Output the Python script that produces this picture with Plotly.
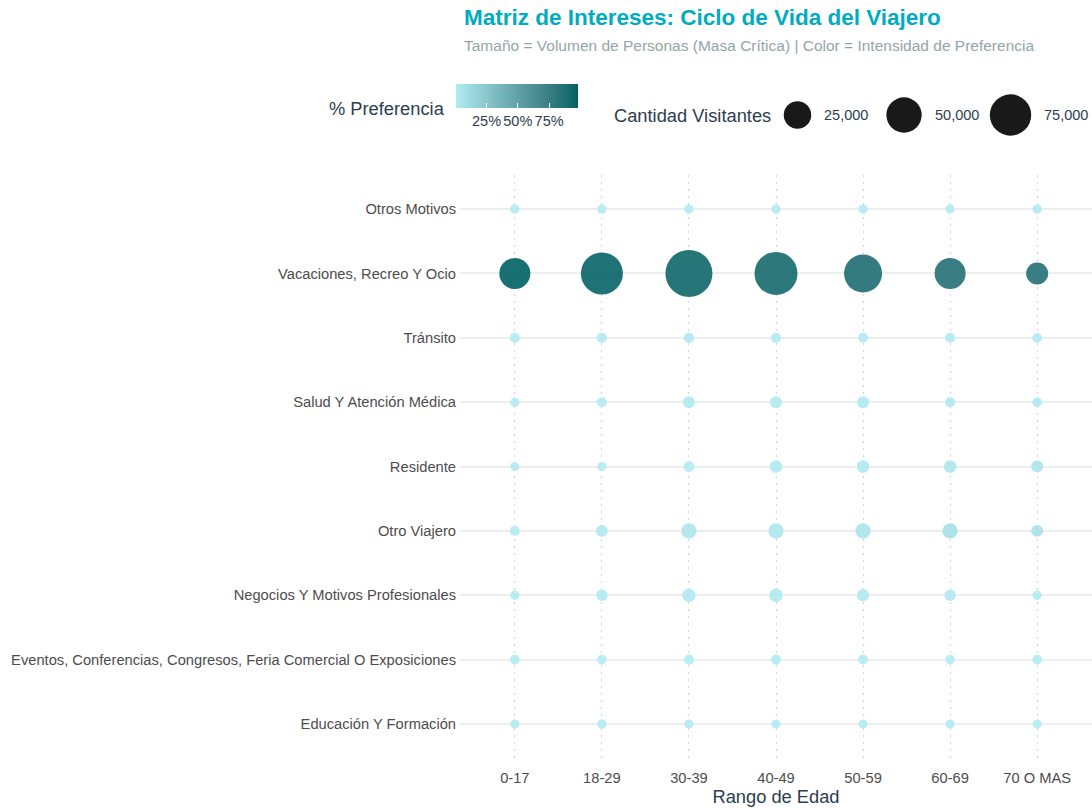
import numpy as np
import plotly.graph_objects as go

ages = ["0-17", "18-29", "30-39", "40-49", "50-59", "60-69", "70 O MAS"]

# bottom -> top order on the y axis
motives = [
    "Educación Y Formación",
    "Eventos, Conferencias, Congresos, Feria Comercial O Exposiciones",
    "Negocios Y Motivos Profesionales",
    "Otro Viajero",
    "Residente",
    "Salud Y Atención Médica",
    "Tránsito",
    "Vacaciones, Recreo Y Ocio",
    "Otros Motivos",
]

# visitors per motive (rows) and age range (columns)
visitors_educacion = [30, 50, 40, 30, 25, 25, 25]
visitors_eventos = [100, 120, 200, 200, 150, 120, 80]
visitors_negocios = [40, 560, 1600, 1600, 1000, 560, 40]
visitors_otro_viajero = [150, 800, 3300, 3100, 3300, 3100, 800]
visitors_residente = [30, 15, 430, 1200, 1200, 1200, 800]
visitors_salud = [30, 150, 850, 850, 850, 150, 100]
visitors_transito = [150, 180, 220, 170, 160, 140, 90]
visitors_vacaciones = [35200, 78000, 103000, 82700, 60400, 35200, 12700]
visitors_otros = [50, 60, 50, 50, 50, 40, 40]

# % preference per motive and age range
pct_educacion = [0.3, 0.4, 0.2, 0.2, 0.2, 0.3, 0.4]
pct_eventos = [0.4, 0.5, 0.5, 0.4, 0.4, 0.5, 0.6]
pct_negocios = [0.2, 1.0, 1.6, 2.0, 1.8, 1.5, 0.5]
pct_otro_viajero = [0.5, 1.5, 3.2, 3.5, 5.0, 7.5, 6.5]
pct_residente = [0.2, 0.2, 0.5, 1.5, 2.0, 3.0, 4.5]
pct_salud = [0.2, 0.4, 1.0, 1.1, 1.5, 1.3, 1.5]
pct_transito = [0.5, 0.6, 0.8, 0.7, 0.9, 1.2, 1.0]
pct_vacaciones = [97.7, 95.5, 93.0, 91.0, 88.0, 85.5, 86.0]
pct_otros = [0.3, 0.3, 0.3, 0.3, 0.4, 0.5, 0.6]

visitors_rows = [visitors_educacion, visitors_eventos, visitors_negocios, visitors_otro_viajero,
                 visitors_residente, visitors_salud, visitors_transito, visitors_vacaciones, visitors_otros]
pct_rows = [pct_educacion, pct_eventos, pct_negocios, pct_otro_viajero,
            pct_residente, pct_salud, pct_transito, pct_vacaciones, pct_otros]

legend_sizes = [25000, 50000, 75000]
legend_labels = ["25,000", "50,000", "75,000"]
pct_ticks = [25, 50, 75]
pct_tick_labels = ["25%", "50%", "75%"]

# ---------- helpers ----------
def size_scale(v):
    v = np.asarray(v, dtype=float)
    return 8.5 + 0.12 * np.sqrt(v)


def _srgb_to_lin(c):
    c = c / 255.0
    return np.where(c <= 0.04045, c / 12.92, ((c + 0.055) / 1.055) ** 2.4)


def _lin_to_srgb(c):
    c = np.clip(c, 0, 1)
    return 255 * np.where(c <= 0.0031308, 12.92 * c, 1.055 * c ** (1 / 2.4) - 0.055)


M = np.array([[0.4124, 0.3576, 0.1805], [0.2126, 0.7152, 0.0722], [0.0193, 0.1192, 0.9505]])
WHITE = np.array([0.95047, 1.0, 1.08883])


def hex_to_lab(h):
    rgb = np.array([int(h[i:i + 2], 16) for i in (1, 3, 5)], dtype=float)
    xyz = M @ _srgb_to_lin(rgb) / WHITE
    f = np.where(xyz > 0.008856, np.cbrt(xyz), 7.787 * xyz + 16 / 116)
    return np.array([116 * f[1] - 16, 500 * (f[0] - f[1]), 200 * (f[1] - f[2])])


def lab_to_rgb(lab):
    fy = (lab[0] + 16) / 116
    fx = fy + lab[1] / 500
    fz = fy - lab[2] / 200
    f = np.array([fx, fy, fz])
    xyz = np.where(f ** 3 > 0.008856, f ** 3, (f - 16 / 116) / 7.787) * WHITE
    rgb = _lin_to_srgb(np.linalg.inv(M) @ xyz)
    return "rgb(%d,%d,%d)" % tuple(np.round(rgb).astype(int))


low, high = hex_to_lab("#B2EBF2"), hex_to_lab("#006064")
colorscale = [[t, lab_to_rgb(low + (high - low) * t)] for t in np.linspace(0, 1, 11)]

# ---------- long-form data ----------
xs, ys, vis, pct = [], [], [], []
for m, vrow, prow in zip(motives, visitors_rows, pct_rows):
    for a, v, p in zip(ages, vrow, prow):
        xs.append(a)
        ys.append(m)
        vis.append(v)
        pct.append(p)

FONT = "Liberation Sans, Arial, sans-serif"
DARK = "#2c3e50"
TICK = 14.7


# page-pixel -> paper helpers (plot panel: x 460..1092, paper y 60..760)
def px(X):
    return (X - 460) / 632


def py(Y):
    return (760 - Y) / 700


fig = go.Figure()
fig.add_trace(go.Scatter(
    x=xs, y=ys, mode="markers",
    marker=dict(
        size=size_scale(vis), sizemode="diameter",
        color=pct, colorscale=colorscale, opacity=0.9,
        line=dict(width=0),
        colorbar=dict(
            orientation="h", lenmode="pixels", len=122, thickness=24,
            x=px(516.5), xanchor="center",
            y=py(84), yanchor="top",
            xpad=0, ypad=0, outlinewidth=0,
            ticks="inside", tickcolor="white", ticklen=5, tickwidth=1,
            tickvals=pct_ticks, ticktext=pct_tick_labels,
            tickfont=dict(size=14.5, color=DARK, family=FONT),
        ),
    ),
    showlegend=False, hoverinfo="x+y",
))

# size legend
idx = list(range(len(legend_sizes)))
fig.add_trace(go.Scatter(
    x=idx, y=[0] * len(idx), xaxis="x2", yaxis="y2", mode="markers",
    marker=dict(size=size_scale(legend_sizes), sizemode="diameter", color="black",
                opacity=0.9, line=dict(width=0)),
    showlegend=False, hoverinfo="skip",
))
for i, (s, lab) in enumerate(zip(size_scale(legend_sizes), legend_labels)):
    fig.add_annotation(x=i, y=0, xref="x2", yref="y2", text=lab, showarrow=False,
                       xanchor="left", yanchor="middle", xshift=float(s) / 2 + 11,
                       font=dict(size=14.5, color=DARK, family=FONT))

fig.add_annotation(x=px(773), y=py(115), xref="paper", yref="paper",
                   text="Cantidad Visitantes", showarrow=False, xanchor="right", yanchor="middle",
                   font=dict(size=18.3, color=DARK, family=FONT))
fig.add_annotation(x=px(447), y=py(108), xref="paper", yref="paper",
                   text="% Preferencia", showarrow=False, xanchor="right", yanchor="middle",
                   font=dict(size=18.3, color=DARK, family=FONT))
fig.add_annotation(x=px(462), y=py(18), xref="paper", yref="paper",
                   text="<b>Matriz de Intereses: Ciclo de Vida del Viajero</b>", showarrow=False,
                   xanchor="left", yanchor="middle",
                   font=dict(size=22.5, color="#00acc1", family=FONT))
fig.add_annotation(x=px(462), y=py(46), xref="paper", yref="paper",
                   text="Tamaño = Volumen de Personas (Masa Crítica) | Color = Intensidad de Preferencia",
                   showarrow=False, xanchor="left", yanchor="middle",
                   font=dict(size=15.5, color="#95a5a6", family=FONT))

fig.update_layout(
    width=1092, height=808,
    margin=dict(l=460, r=0, t=60, b=48),
    paper_bgcolor="white", plot_bgcolor="white",
    font=dict(family=FONT, color=DARK),
    xaxis=dict(
        type="category", categoryorder="array", categoryarray=ages,
        range=[-0.63, 6.63], domain=[0, 1],
        showgrid=True, gridcolor="#d4d4d4", griddash="1.5px,5.5px", gridwidth=1.3,
        zeroline=False, showline=False, ticks="",
        tickfont=dict(size=TICK, color="#4d4d4d"), ticklabelstandoff=7,
        title=dict(text="Rango de Edad", font=dict(size=18.3, color=DARK), standoff=3),
    ),
    yaxis=dict(
        type="category", categoryorder="array", categoryarray=motives,
        range=[-0.56, 8.53], domain=[0, 585 / 700],
        showgrid=True, gridcolor="#ebeff0", gridwidth=2,
        zeroline=False, showline=False, ticks="",
        tickfont=dict(size=TICK, color="#4d4d4d"), ticklabelstandoff=3,
    ),
    xaxis2=dict(domain=[px(760), 1], range=[-0.352, 2.765], anchor="y2",
                visible=False, fixedrange=True),
    yaxis2=dict(domain=[py(140), py(90)], range=[-1, 1], anchor="x2",
                visible=False, fixedrange=True),
)

fig.write_html("out.html", config={"displayModeBar": False},
               post_script="document.body.style.margin='0';")
